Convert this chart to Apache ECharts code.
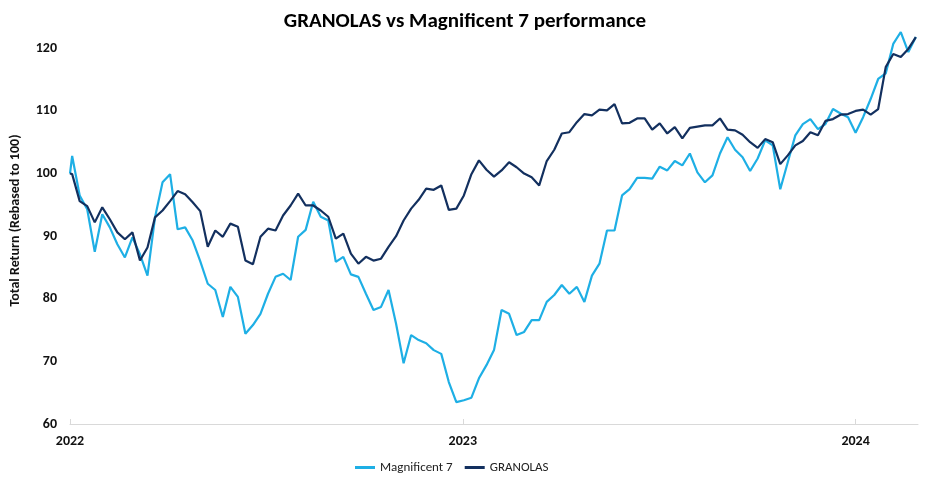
<!DOCTYPE html>
<html>
<head>
<meta charset="utf-8">
<script src="https://cdn.jsdelivr.net/npm/echarts@6/dist/echarts.min.js"></script>
<style>
html,body{margin:0;padding:0;background:#fff;}
#chart{width:930px;height:482px;}
</style>
</head>
<body>
<div id="chart"></div>
<script>
// Weekly observation dates
var dates = [
'2022-01-01','2022-01-03','2022-01-10','2022-01-17','2022-01-24','2022-01-31',
'2022-02-07','2022-02-14','2022-02-21','2022-02-28',
'2022-03-07','2022-03-14','2022-03-21','2022-03-28',
'2022-04-04','2022-04-11','2022-04-18','2022-04-25',
'2022-05-02','2022-05-09','2022-05-16','2022-05-23','2022-05-30',
'2022-06-06','2022-06-13','2022-06-20','2022-06-27',
'2022-07-04','2022-07-11','2022-07-18','2022-07-25',
'2022-08-01','2022-08-08','2022-08-15','2022-08-22','2022-08-29',
'2022-09-05','2022-09-12','2022-09-19','2022-09-26',
'2022-10-03','2022-10-10','2022-10-17','2022-10-24','2022-10-31',
'2022-11-07','2022-11-14','2022-11-21','2022-11-28',
'2022-12-05','2022-12-12','2022-12-19','2022-12-26',
'2023-01-02','2023-01-09','2023-01-16','2023-01-23','2023-01-30',
'2023-02-06','2023-02-13','2023-02-20','2023-02-27',
'2023-03-06','2023-03-13','2023-03-20','2023-03-27',
'2023-04-03','2023-04-10','2023-04-17','2023-04-24',
'2023-05-01','2023-05-08','2023-05-15','2023-05-22','2023-05-29',
'2023-06-05','2023-06-12','2023-06-19','2023-06-26',
'2023-07-03','2023-07-10','2023-07-17','2023-07-24','2023-07-31',
'2023-08-07','2023-08-14','2023-08-21','2023-08-28',
'2023-09-04','2023-09-11','2023-09-18','2023-09-25',
'2023-10-02','2023-10-09','2023-10-16','2023-10-23','2023-10-30',
'2023-11-06','2023-11-13','2023-11-20','2023-11-27',
'2023-12-04','2023-12-11','2023-12-18','2023-12-25',
'2024-01-01','2024-01-08','2024-01-15','2024-01-22','2024-01-29',
'2024-02-05','2024-02-12','2024-02-19','2024-02-26'
];

// Magnificent 7 total return (rebased to 100)
var magnificent7 = [
100,102.8,96.5,94.3,87.5,93.5,91.4,88.7,86.6,89.8,87.1,83.7,93,98.6,99.9,91.1,91.4,89.3,86,
82.4,81.4,77.1,81.9,80.3,74.4,75.8,77.6,80.8,83.5,84,83,89.9,91,95.5,93.1,92.5,85.9,86.7,
83.9,83.5,80.8,78.2,78.7,81.4,76,69.7,74.2,73.4,72.9,71.8,71.2,66.7,63.5,
63.8,64.2,67.3,69.4,71.8,78.2,77.6,74.2,74.7,76.6,76.6,79.5,80.6,82.2,80.8,81.9,79.5,83.7,
85.6,90.9,90.9,96.5,97.5,99.3,99.3,99.2,101.1,100.5,102,101.3,103.2,100.2,98.6,99.7,103.2,
105.8,103.8,102.6,100.4,102.4,105.3,104.5,97.5,101.8,106.1,107.9,108.7,107.1,107.9,110.3,
109.6,109,
106.5,109,111.9,115.1,116,120.7,122.6,119.4,121.8
];

// GRANOLAS total return (rebased to 100)
var granolas = [
100,99.9,95.6,94.8,92.2,94.6,92.7,90.6,89.5,90.6,86.1,88.2,93,94.1,95.6,97.2,96.7,95.4,94,
88.3,90.9,89.9,92,91.5,86.1,85.5,89.9,91.2,90.9,93.3,94.9,96.8,94.9,94.9,94.1,93.1,89.6,90.4,
87.2,85.6,86.7,86.1,86.4,88.3,90,92.5,94.4,95.8,97.6,97.4,98.1,94.2,94.4,
96.5,99.9,102.1,100.6,99.5,100.5,101.8,101,100,99.4,98.1,102,103.8,106.4,106.6,108.2,109.5,
109.3,110.2,110.1,111.1,108,108.1,108.8,108.8,107,108,106.4,107.4,105.6,107.3,107.5,107.7,
107.7,108.8,107,106.9,106.2,105,104.1,105.5,105,101.5,102.9,104.5,105.2,106.6,106.1,108.4,
108.7,109.4,109.5,
110,110.2,109.4,110.3,117,119.1,118.6,119.9,121.8
];

var yearTicks = ['2022-01-01','2023-01-01','2024-01-01'];
var axisStart = '2022-01-01';
var axisEnd = '2024-02-28';

function ts(d){ return Date.parse(d + 'T00:00:00Z'); }
function pairs(vals){ return dates.map(function(d,i){ return [ts(d), vals[i]]; }); }

var FONT = 'Carlito, Lato, "Open Sans", sans-serif';
var chart = echarts.init(document.getElementById('chart'));
chart.setOption({
  animation: false,
  backgroundColor: '#ffffff',
  title: {
    text: 'GRANOLAS vs Magnificent 7 performance',
    left: 'center', top: 6,
    textStyle: {fontFamily: FONT, fontSize: 21, fontWeight: 'bold', color: '#000'}
  },
  legend: {
    bottom: 3, left: 350,
    itemWidth: 20, itemHeight: 3, itemGap: 12,
    icon: 'rect',
    textStyle: {fontFamily: FONT, fontSize: 13, color: '#222'},
    data: ['Magnificent 7', 'GRANOLAS']
  },
  grid: {left: 68, right: 12, top: 17, bottom: 58, containLabel: false},
  xAxis: {
    type: 'value',
    min: ts(axisStart), max: ts(axisEnd),
    axisLine: {show: true, lineStyle: {color: '#d9d9d9', width: 1}},
    axisTick: {show: true, inside: true, length: 5, lineStyle: {color: '#d9d9d9'},
      customValues: yearTicks.map(ts)},
    splitLine: {show: false},
    axisLabel: {
      customValues: yearTicks.map(ts),
      margin: 10,
      fontFamily: FONT, fontSize: 14, fontWeight: 'bold', color: '#111',
      formatter: function(v){ return String(new Date(v).getUTCFullYear()); }
    }
  },
  yAxis: {
    type: 'value', min: 60, max: 125, interval: 10,
    name: 'Total Return (Rebased to 100)',
    nameLocation: 'middle', nameGap: 48, nameRotate: 90,
    nameTextStyle: {fontFamily: FONT, fontSize: 14, fontWeight: 'bold', color: '#111'},
    axisLine: {show: false}, axisTick: {show: false},
    splitLine: {show: false},
    axisLabel: {showMaxLabel: false, margin: 13, fontFamily: FONT, fontSize: 14, fontWeight: 'bold', color: '#111'}
  },
  series: [
    {name: 'Magnificent 7', type: 'line', data: pairs(magnificent7), showSymbol: false,
      lineStyle: {color: '#1eafe5', width: 2.2}, itemStyle: {color: '#1eafe5'}},
    {name: 'GRANOLAS', type: 'line', data: pairs(granolas), showSymbol: false,
      lineStyle: {color: '#13305f', width: 2.2}, itemStyle: {color: '#13305f'}}
  ]
});
</script>
</body>
</html>
